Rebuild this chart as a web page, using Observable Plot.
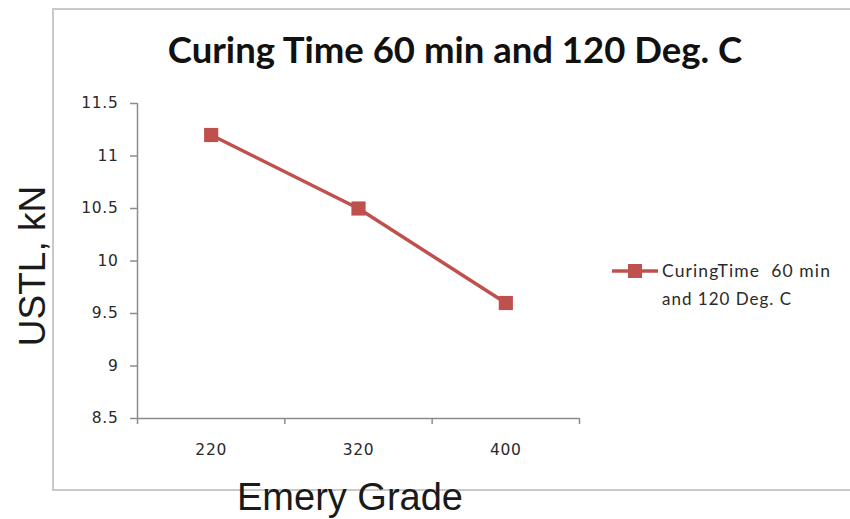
<!DOCTYPE html>
<html>
<head>
<meta charset="utf-8">
<script src="https://cdn.jsdelivr.net/npm/d3@7"></script>
<script src="https://cdn.jsdelivr.net/npm/@observablehq/plot@0.6"></script>
<style>
  html, body { margin: 0; padding: 0; background: #fff; overflow: hidden; }
  #wrap { position: relative; width: 850px; height: 519px; overflow: hidden; }
  #frame { position: absolute; left: 52px; top: 8px; width: 900px; height: 483px;
           border: 2px solid #c9c9c9; box-sizing: border-box; }
  #chart { position: absolute; left: 0; top: 0; }
  #overlay { position: absolute; left: 0; top: 0; pointer-events: none; }
  #chart svg [aria-label^="y-axis"] line, #chart svg [aria-label^="y-axis"] path,
  #chart svg [aria-label^="x-axis"] line, #chart svg [aria-label^="x-axis"] path { stroke: #8c8c8c; stroke-width: 1.5; }
  #chart svg text { font-size: 15.5px !important; letter-spacing: 0.7px; fill: #2a2a2a; }
</style>
</head>
<body>
<div id="wrap">
  <div id="frame"></div>
  <div id="chart"></div>
  <svg id="overlay" width="850" height="519">
    <text x="455" y="63" text-anchor="middle" font-family="Lato" font-weight="700" font-size="36.5" fill="#111">Curing Time 60 min and 120 Deg. C</text>
    <text transform="translate(45,266) rotate(-90)" text-anchor="middle" font-family="Liberation Sans" font-size="37" fill="#1a1a1a">USTL, kN</text>
    <text x="350" y="510" text-anchor="middle" font-family="Liberation Sans" font-size="38" fill="#1a1a1a">Emery Grade</text>
    <line x1="612" y1="271" x2="658" y2="271" stroke="#c0504d" stroke-width="3.5"/>
    <rect x="628" y="264" width="14" height="14" fill="#c0504d"/>
    <text x="662" y="277" font-family="Lato" font-size="17.5" letter-spacing="1.1" fill="#2a2a2a" style="white-space:pre">CuringTime  60 min</text>
    <text x="662" y="305" font-family="Lato" font-size="17" letter-spacing="1" fill="#2a2a2a">and 120 Deg. C</text>
  </svg>
</div>
<script>
// Data
const grades = ["220", "320", "400"];
const ustl = [11.2, 10.5, 9.6];
const yTickValues = [8.5, 9, 9.5, 10, 10.5, 11, 11.5];
const yTickLabels = ["8.5", "9", "9.5", "10", "10.5", "11", "11.5"];

const data = grades.map((g, i) => ({grade: g, pos: i + 0.5, v: ustl[i]}));
const bounds = d3.range(grades.length + 1);

const chart = Plot.plot({
  width: 850,
  height: 519,
  marginLeft: 137,
  marginRight: 271,
  marginTop: 103,
  marginBottom: 101,
  style: {fontFamily: "DejaVu Sans", fontSize: "15.5px", color: "#333", background: "transparent", overflow: "visible"},
  x: {domain: [0, grades.length], ticks: bounds, tickFormat: () => "", tickSize: 6, label: null},
  y: {domain: [8.5, 11.5], ticks: yTickValues, tickFormat: d => yTickLabels[yTickValues.indexOf(d)], tickSize: 7, tickPadding: 12, label: null},
  marks: [
    Plot.ruleX([0], {stroke: "#8c8c8c", strokeWidth: 1.5}),
    Plot.ruleY([8.5], {stroke: "#8c8c8c", strokeWidth: 1.5}),
    Plot.text(data, {x: "pos", text: "grade", frameAnchor: "bottom", dy: 36, fill: "#333", fontFamily: "DejaVu Sans"}),
    Plot.line(data, {x: "pos", y: "v", stroke: "#c0504d", strokeWidth: 3.5}),
    Plot.dot(data, {x: "pos", y: "v", symbol: "square", r: 8, fill: "#c0504d", stroke: "none"})
  ]
});
document.getElementById("chart").appendChild(chart);
</script>
</body>
</html>
